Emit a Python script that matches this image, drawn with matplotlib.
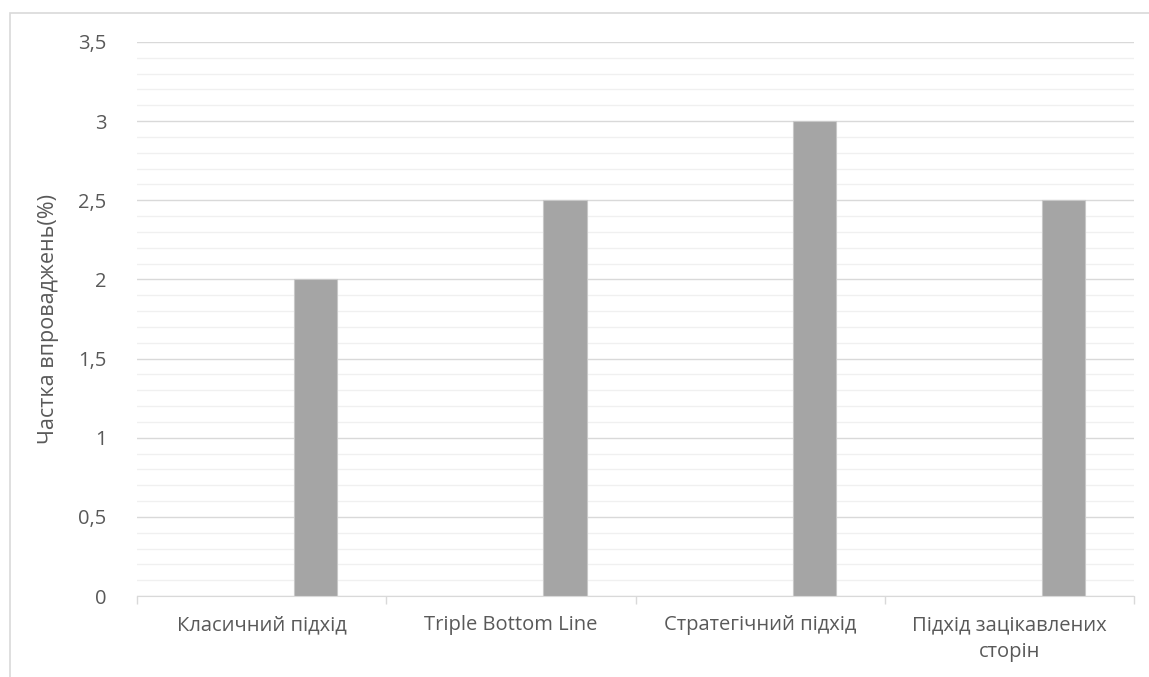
import matplotlib.pyplot as plt
from matplotlib.patches import Rectangle
from matplotlib.ticker import MultipleLocator, FuncFormatter, FixedLocator
import numpy as np

plt.rcParams["font.family"] = ["Open Sans", "DejaVu Sans"]

categories = ["Класичний підхід", "Triple Bottom Line", "Стратегічний підхід",
              "Підхід зацікавлених\nсторін"]
values = [2.0, 2.5, 3.0, 2.5]
ylabel = "Частка впроваджень(%)"

text_col = "#595959"
fig = plt.figure(figsize=(11.49, 6.77), dpi=100)
ax = fig.add_axes([137 / 1149, 1 - 596 / 677, (1134 - 137) / 1149, (596 - 42) / 677])

# outer chart frame (only left/top visible)
fig.patches.append(Rectangle((10 / 1149, -0.1), 1.2, 1 - 13 / 677 + 0.1,
                             transform=fig.transFigure, fill=False,
                             edgecolor="#D9D9D9", linewidth=1.2))

x = np.arange(len(categories))
ax.bar(x + 0.217, values, width=0.173, color="#A5A5A5",
       edgecolor="#C8C8C8", linewidth=0.8, zorder=3)

ax.set_xlim(-0.5, len(categories) - 0.5)
ax.set_ylim(0, 3.5)
ax.yaxis.set_major_locator(MultipleLocator(0.5))
ax.yaxis.set_minor_locator(MultipleLocator(0.1))
ax.yaxis.set_major_formatter(FuncFormatter(lambda v, p: f"{v:g}".replace(".", ",")))
ax.grid(axis="y", which="major", color="#D9D9D9", linewidth=1.0, zorder=0)
ax.grid(axis="y", which="minor", color="#F0F0F0", linewidth=1.0, zorder=0)

# category labels centred, tick marks on category boundaries
ax.set_xticks(x)
ax.set_xticklabels(categories, fontsize=14.5, color=text_col, linespacing=1.45)
ax.tick_params(axis="x", which="major", length=0, pad=14)
ax.xaxis.set_minor_locator(FixedLocator(np.arange(-0.5, len(categories), 1.0)))
ax.tick_params(axis="x", which="minor", length=6, color="#D9D9D9", width=1)
ax.tick_params(axis="y", which="both", length=0, labelsize=14.5, labelcolor=text_col, pad=22)

for s in ["top", "right", "left"]:
    ax.spines[s].set_visible(False)
ax.spines["bottom"].set_color("#D9D9D9")
ax.spines["bottom"].set_zorder(4)

ax.set_ylabel(ylabel, fontsize=15.5, color=text_col, labelpad=14)

fig.savefig("out.png", dpi=100)
